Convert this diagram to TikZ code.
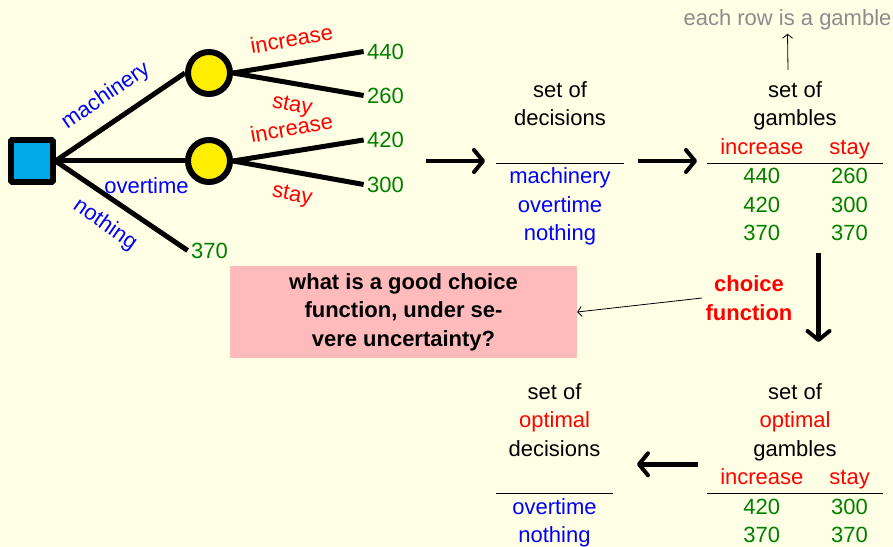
\documentclass[tikz,border=0pt]{standalone}
\usepackage{fontspec}
\setmainfont{Liberation Sans}
\usepackage{tikz}
\usetikzlibrary{arrows.meta,backgrounds,positioning,calc}
\definecolor{slidebg}{RGB}{255,255,230}
\definecolor{decblue}{RGB}{0,170,232}
\definecolor{chanceyellow}{RGB}{255,238,0}
\definecolor{payoff}{RGB}{0,128,0}
\definecolor{qpink}{RGB}{255,187,187}
\definecolor{notegray}{RGB}{140,140,140}
\newcommand{\decopt}[1]{\textcolor{blue}{#1}}
\newcommand{\stateof}[1]{\textcolor{red}{#1}}
\newcommand{\payv}[1]{\textcolor{payoff}{#1}}
\setlength{\tabcolsep}{13bp}
\setlength{\arrayrulewidth}{0.9bp}

\begin{document}
\begin{tikzpicture}[>={Computer Modern Rightarrow},line join=bevel,
  every node/.style={font=\fontsize{22bp}{28.5bp}\selectfont},
  boldtext/.style={font=\fontsize{22bp}{28.5bp}\selectfont\bfseries},
  chance/.style={draw,circle,line width=6bp,fill=chanceyellow,minimum size=42bp,inner sep=0pt},
  branch/.style={line width=5bp},
  bigarrow/.style={line width=4.5bp,-{Straight Barb[length=9bp,width=22bp,line width=4bp,round]}},
  pointer/.style={line width=0.8bp,-{Straight Barb[length=4bp,width=10bp,line width=0.8bp]}},
  ]
\useasboundingbox (0bp,0bp) rectangle (893bp,547bp);
%% decision tree
\node (dec) at (31.5bp,386bp) [draw,line width=6bp,fill=decblue,minimum size=42bp,inner sep=0pt] {};
\node (c1) at (209bp,474bp) [chance] {};
\node (c2) at (209bp,386bp) [chance] {};
\node (v440) at (385.5bp,495.5bp) [text=payoff] {440};
\node (v260) at (385.5bp,451.5bp) [text=payoff] {260};
\node (v420) at (385.5bp,407bp) [text=payoff] {420};
\node (v300) at (385.5bp,362.5bp) [text=payoff] {300};
\node (v370) at (209.5bp,296.5bp) [text=payoff] {370};
\begin{scope}[on background layer]
  \fill [slidebg] (0bp,0bp) rectangle (893bp,547bp);
  \draw [branch] (dec.east) -- (c1.west);
  \draw [branch] (dec.east) -- (c2.west);
  \draw [branch] (dec.east) -- (v370.west);
  \draw [branch] (c1.east) -- (v440.west);
  \draw [branch] (c1.east) -- (v260.west);
  \draw [branch] (c2.east) -- (v420.west);
  \draw [branch] (c2.east) -- (v300.west);
\end{scope}
\node (lmach) at (106bp,451bp) [rotate=34.5,text=blue] {machinery};
\node (lover) at (146.5bp,361bp) [text=blue] {overtime};
\node (lnoth) at (105bp,322bp) [rotate=-35,text=blue] {nothing};
\node (linc1) at (291.5bp,508bp) [rotate=10,text=red] {increase};
\node (lsty1) at (292bp,440.5bp) [rotate=-11,text=red] {stay};
\node (linc2) at (291.5bp,419bp) [rotate=10,text=red] {increase};
\node (lsty2) at (292bp,351bp) [rotate=-11,text=red] {stay};
%% tables
\node (decs) at (560bp,470bp) [anchor=north,inner sep=0pt] {%
  \begin{tabular}{c}
  set of\\
  decisions\\
  \\ \hline
  \decopt{machinery}\\
  \decopt{overtime}\\
  \decopt{nothing}
  \end{tabular}};
\node (gams) at (795bp,470bp) [anchor=north,inner sep=0pt] {%
  \begin{tabular}{cc}
  \multicolumn{2}{c}{set of}\\
  \multicolumn{2}{c}{gambles}\\
  \stateof{increase} & \stateof{stay}\\ \hline
  \payv{440} & \payv{260}\\
  \payv{420} & \payv{300}\\
  \payv{370} & \payv{370}
  \end{tabular}};
\node (optdecs) at (554.5bp,168bp) [anchor=north,inner sep=0pt] {%
  \begin{tabular}{c}
  set of\\
  \stateof{optimal}\\
  decisions\\
  \\ \hline
  \decopt{overtime}\\
  \decopt{nothing}
  \end{tabular}};
\node (optgams) at (795bp,168bp) [anchor=north,inner sep=0pt] {%
  \begin{tabular}{cc}
  \multicolumn{2}{c}{set of}\\
  \multicolumn{2}{c}{\stateof{optimal}}\\
  \multicolumn{2}{c}{gambles}\\
  \stateof{increase} & \stateof{stay}\\ \hline
  \payv{420} & \payv{300}\\
  \payv{370} & \payv{370}
  \end{tabular}};
\node (row) at (787.5bp,527bp) [text=notegray] {each row is a gamble};
\node (cf) at (749bp,249bp) [boldtext,align=center,text=red] {choice\\function};
\node (q) at (403.5bp,235bp) [boldtext,fill=qpink,align=center,minimum width=347bp,minimum height=92bp] {what is a good choice\\function, under se-\\vere uncertainty?};
%% arrows
\coordinate (a1s) at (426bp,386bp);
\coordinate (a1e) at (485bp,386bp);
\coordinate (a2s) at (638bp,386bp);
\coordinate (a2e) at (697bp,386bp);
\coordinate (a3s) at (818.5bp,294bp);
\coordinate (a3e) at (818.5bp,205bp);
\coordinate (a4s) at (698bp,82.7bp);
\coordinate (a4e) at (637bp,82.7bp);
\coordinate (rowfoot) at (788bp,477bp);
\draw [bigarrow] (a1s) -- (a1e);
\draw [bigarrow] (a2s) -- (a2e);
\draw [bigarrow] (a3s) -- (a3e);
\draw [bigarrow] (a4s) -- (a4e);
\draw [pointer] (rowfoot) -- (row.south);
\draw [pointer] (cf.west) -- (q.east);
%
\end{tikzpicture}
\end{document}
